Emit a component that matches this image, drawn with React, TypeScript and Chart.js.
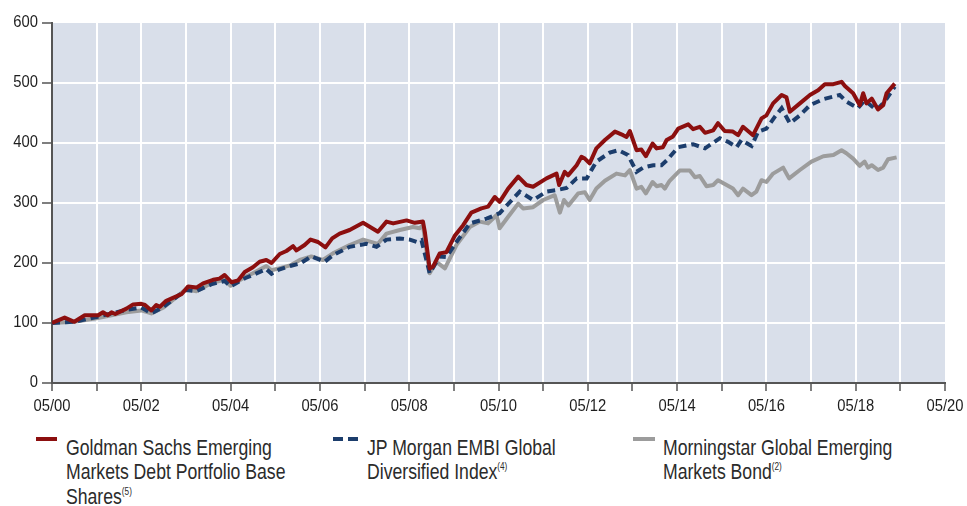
import React, { useEffect, useRef } from "react";
import { Chart, registerables } from "chart.js";

Chart.register(...registerables);

// x values are months since 05/2000
const gsMonths = [0, 3.4, 6, 8.8, 12.4, 13.7, 15, 16, 17, 20, 21.8, 24, 25, 26.7, 28, 29, 30.7, 32.5, 34.8, 36.6, 38.8, 40.6, 43.3, 45, 46.4, 48.2, 50, 51.8, 54, 55.8, 57.6, 59, 61.2, 63, 64.8, 65.7, 67.9, 69.5, 71.5, 73.5, 75.3, 77.3, 80, 83.6, 87.6, 89.9, 91.7, 95.3, 97.5, 99.7, 100.2, 101.5, 102.4, 104.2, 106, 108.3, 110.5, 112.7, 115.4, 117.2, 119, 120.3, 122.6, 125.3, 127.5, 129.3, 132.9, 135.6, 136.3, 137.8, 138.7, 141, 142.3, 143.2, 144.5, 146.3, 148.6, 151.3, 153.5, 154.4, 155.3, 157.1, 158.4, 159.6, 161.4, 162.5, 164.2, 165.2, 166.9, 168.3, 171, 172.3, 174.1, 175.5, 177.7, 179, 180.8, 183, 184.4, 185.7, 188.4, 190.7, 192, 193.8, 196.1, 197.4, 198.3, 201, 203.7, 205.9, 207.7, 210, 212.2, 213.1, 215.3, 217.1, 218, 218.9, 220.3, 222, 223.4, 224.3, 226.5];
const gsValues = [100, 109, 102, 113, 113, 118, 113, 118, 115, 124, 131, 132, 130, 121, 130, 127, 137, 142, 148, 161, 159, 166, 172, 174, 180, 168, 171, 185, 193, 202, 205, 200, 215, 220, 228, 221, 230, 239, 235, 226, 241, 249, 255, 267, 252, 269, 266, 271, 267, 269, 252, 191, 194, 216, 218, 246, 263, 284, 291, 294, 310, 302, 324, 344, 330, 327, 341, 349, 330, 352, 346, 363, 377, 374, 366, 391, 405, 419, 413, 410, 420, 388, 389, 378, 399, 391, 393, 405, 411, 424, 431, 423, 427, 417, 421, 433, 420, 419, 413, 427, 413, 441, 446, 466, 480, 476, 452, 466, 480, 488, 498, 498, 502, 495, 483, 463, 483, 466, 474, 456, 463, 483, 499];

const jpMonths = [0, 6, 12, 20, 24, 26.7, 30, 36, 38.8, 43, 46.4, 48, 52, 54, 57.6, 59, 61, 64, 66.6, 69.7, 73.3, 75.5, 80, 84.5, 87.2, 89.9, 93.5, 96.2, 98, 99.3, 101.5, 104.2, 106, 108.7, 112.3, 116.8, 120.3, 125.7, 129.3, 132.9, 136, 138.3, 141, 143.7, 146.3, 149.9, 152.2, 154.8, 157.1, 158.9, 161.6, 163.8, 165.2, 168.3, 172.3, 175.5, 179.5, 181.7, 184, 185.3, 188, 189.8, 192, 194.3, 196.1, 198.3, 201, 203.7, 207.3, 211.7, 213.5, 216.6, 218.4, 221.6, 223.8, 226.5];
const jpValues = [100, 102, 110, 122, 126, 116, 127, 155, 153, 165, 170, 161, 175, 180, 190, 182, 189, 195, 199, 211, 202, 213, 227, 232, 227, 239, 241, 239, 235, 238, 183, 211, 210, 235, 266, 274, 283, 319, 305, 319, 322, 325, 341, 341, 369, 384, 388, 380, 352, 359, 363, 363, 371, 393, 398, 391, 408, 402, 393, 405, 395, 419, 424, 444, 458, 433, 446, 463, 473, 480, 469, 458, 471, 455, 469, 494];

const msMonths = [0, 6, 12, 20, 24, 26.7, 30, 36, 38.8, 43, 46.4, 48, 52, 54, 57.6, 59, 61, 64, 66.6, 69.7, 72.8, 75.5, 80, 83.6, 87.6, 89.9, 93.5, 97, 98.8, 99.7, 101.5, 103.3, 105.6, 108.7, 112.3, 115, 117.2, 119.5, 120.3, 122.6, 125.3, 126.6, 129.3, 132, 135.1, 136.5, 137.6, 138.8, 141.4, 143.2, 144.5, 146.3, 148.6, 151.7, 154, 155.3, 157.1, 158.4, 159.6, 161.4, 162.5, 163.8, 164.7, 166, 168.7, 171.4, 172.8, 174.1, 175.9, 177.7, 179, 181.3, 183, 184.4, 185.7, 188, 189.3, 190.7, 192, 193.8, 196.5, 198.1, 201, 204.1, 207.3, 210, 212.2, 213.5, 215.3, 217.1, 218.4, 219.3, 220.3, 222, 223.4, 224.7, 227];
const msValues = [100, 102, 108, 118, 121, 116, 126, 156, 153, 167, 172, 162, 177, 183, 195, 188, 191, 196, 205, 211, 205, 216, 230, 239, 232, 249, 255, 260, 258, 263, 183, 202, 191, 230, 260, 269, 266, 280, 258, 277, 299, 291, 293, 305, 313, 284, 305, 296, 316, 318, 305, 324, 337, 349, 346, 355, 324, 327, 316, 335, 328, 330, 324, 337, 354, 354, 343, 345, 328, 330, 338, 330, 324, 313, 324, 313, 319, 338, 335, 349, 359, 341, 355, 369, 378, 380, 388, 383, 374, 362, 369, 359, 363, 355, 359, 373, 376];

const xTickMonths = [0, 24, 48, 72, 96, 120, 144, 168, 192, 216, 240];
const xTickLabels = ["05/00", "05/02", "05/04", "05/06", "05/08", "05/10", "05/12", "05/14", "05/16", "05/18", "05/20"];
const yTicks = [0, 100, 200, 300, 400, 500, 600];

const seriesNames = [
  "Goldman Sachs Emerging Markets Debt Portfolio Base Shares",
  "JP Morgan EMBI Global Diversified Index",
  "Morningstar Global Emerging Markets Bond",
];

const RED = "#8c0f0f";
const BLUE = "#1c3d6c";
const GRAY = "#9c9c9c";
const FONT = "'Liberation Sans', Arial, sans-serif";
const NARROW = 0.82;
const TICK_NARROW = 0.87;

function toPoints(xs: number[], ys: number[]) {
  return xs.map((x, i) => ({ x, y: ys[i] }));
}

const bgPlugin = {
  id: "plotBg",
  beforeDraw(chart: any) {
    const { ctx, chartArea } = chart;
    if (!chartArea) return;
    ctx.save();
    ctx.fillStyle = "#d9dfea";
    ctx.fillRect(chartArea.left, chartArea.top, chartArea.right - chartArea.left, chartArea.bottom - chartArea.top);
    ctx.restore();
  },
};

// draws condensed tick labels at the positions given by the chart's own scales
const narrowLabels = {
  id: "narrowLabels",
  afterDraw(chart: any) {
    const { ctx, chartArea } = chart;
    const xs = chart.scales.x;
    const ys = chart.scales.y;
    ctx.save();
    ctx.fillStyle = "#1e1e1e";
    ctx.font = "17px " + FONT;
    ctx.textBaseline = "alphabetic";
    ctx.textAlign = "center";
    xTickMonths.forEach((m, i) => {
      const px = xs.getPixelForValue(m);
      ctx.save();
      ctx.translate(px, chartArea.bottom + 27.5);
      ctx.scale(TICK_NARROW, 1);
      ctx.fillText(xTickLabels[i], 0, 0);
      ctx.restore();
    });
    ctx.textAlign = "right";
    yTicks.forEach((v) => {
      const py = ys.getPixelForValue(v);
      ctx.save();
      ctx.translate(chartArea.left - 14, py + 4);
      ctx.scale(TICK_NARROW, 1);
      ctx.fillText(String(v), 0, 0);
      ctx.restore();
    });
    ctx.restore();
  },
};

export default function App() {
  const ref = useRef<HTMLCanvasElement | null>(null);

  useEffect(() => {
    if (!ref.current) return;
    const chart = new Chart(ref.current, {
      type: "line",
      data: {
        datasets: [
          {
            label: seriesNames[0],
            data: toPoints(gsMonths, gsValues),
            borderColor: RED,
            borderWidth: 4,
            pointRadius: 0,
            tension: 0,
            borderJoinStyle: "round",
          },
          {
            label: seriesNames[1],
            data: toPoints(jpMonths, jpValues),
            borderColor: BLUE,
            borderWidth: 4,
            borderDash: [8, 5],
            pointRadius: 0,
            tension: 0,
          },
          {
            label: seriesNames[2],
            data: toPoints(msMonths, msValues),
            borderColor: GRAY,
            borderWidth: 4,
            pointRadius: 0,
            tension: 0,
            borderJoinStyle: "round",
          },
        ],
      },
      options: {
        responsive: false,
        animation: false,
        layout: { padding: { top: 23, right: 22, left: 0, bottom: 0 } },
        plugins: { legend: { display: false }, tooltip: { enabled: false } },
        scales: {
          x: {
            type: "linear",
            min: 0,
            max: 240,
            afterFit(scale: any) {
              scale.height = 37;
            },
            afterBuildTicks(scale: any) {
              const t = [];
              for (let m = 0; m <= 240; m += 12) t.push({ value: m });
              scale.ticks = t;
            },
            ticks: { display: false, autoSkip: false, maxRotation: 0 },
            grid: {
              color: (c: any) => (c.tick && (c.tick.value === 240 || c.tick.value === 0) ? "rgba(0,0,0,0)" : "#ffffff"),
              lineWidth: 2,
              tickColor: "#555",
              tickWidth: 1.5,
              tickLength: 8,
            },
            border: { color: "#555", width: 2 },
          },
          y: {
            min: 0,
            max: 600,
            afterFit(scale: any) {
              scale.width = 52;
            },
            afterBuildTicks(scale: any) {
              scale.ticks = yTicks.map((v) => ({ value: v }));
            },
            ticks: { display: false },
            grid: {
              color: (c: any) => (c.tick && (c.tick.value === 600 || c.tick.value === 0) ? "rgba(0,0,0,0)" : "#ffffff"),
              lineWidth: 2,
              tickColor: "#555",
              tickWidth: 1.5,
              tickLength: 10,
            },
            border: { color: "#555", width: 2 },
          },
        },
      },
      plugins: [bgPlugin, narrowLabels],
    } as any);
    return () => chart.destroy();
  }, []);

  const textStyle: React.CSSProperties = {
    position: "absolute",
    top: 435.5,
    fontFamily: FONT,
    fontSize: 21.5,
    lineHeight: "24.5px",
    color: "#2b2b2b",
    whiteSpace: "nowrap",
    transform: `scaleX(${NARROW})`,
    transformOrigin: "0 0",
  };
  const supStyle: React.CSSProperties = {
    fontSize: 10,
    position: "relative",
    top: -9,
    lineHeight: 0,
  };
  const sw = (left: number, width: number, color: string): React.CSSProperties => ({
    position: "absolute",
    left,
    top: 437,
    width,
    height: 4,
    background: color,
  });

  return (
    <div style={{ position: "fixed", left: 0, top: 0, width: 967, height: 506, background: "#fff", overflow: "hidden" }}>
      <canvas ref={ref} width={967} height={420} style={{ position: "absolute", left: 0, top: 0, width: 967, height: 420 }} />
      <div style={sw(36, 21, RED)} />
      <div style={{ ...textStyle, left: 66 }}>
        Goldman Sachs Emerging
        <br />
        Markets Debt Portfolio Base
        <br />
        Shares<span style={supStyle}>(5)</span>
      </div>
      <div style={sw(333, 10, BLUE)} />
      <div style={sw(348, 10, BLUE)} />
      <div style={{ ...textStyle, left: 367 }}>
        JP Morgan EMBI Global
        <br />
        Diversified Index<span style={supStyle}>(4)</span>
      </div>
      <div style={sw(633, 22, GRAY)} />
      <div style={{ ...textStyle, left: 663 }}>
        Morningstar Global Emerging
        <br />
        Markets Bond<span style={supStyle}>(2)</span>
      </div>
    </div>
  );
}
